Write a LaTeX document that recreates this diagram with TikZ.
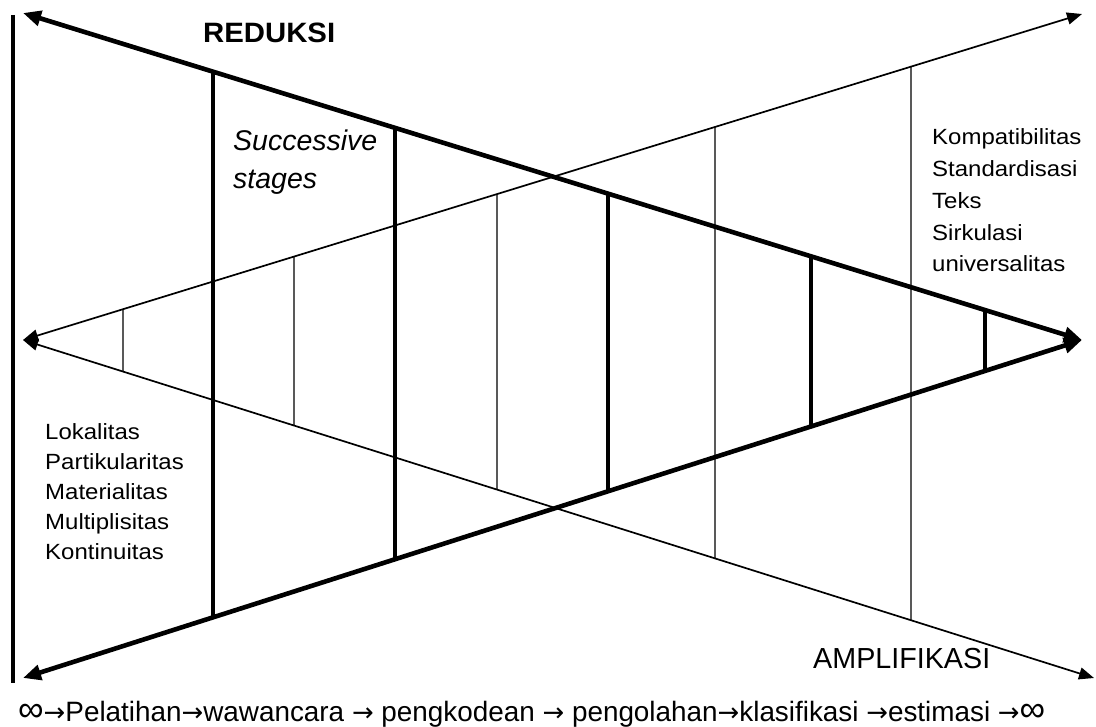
\documentclass[tikz,border=0pt]{standalone}
\usepackage{fontspec}
\setmainfont{Liberation Sans}
\newfontfamily\listfont[FakeStretch=1.09]{Liberation Sans}
\newfontfamily\arrowfont{DejaVu Sans}
\usetikzlibrary{arrows.meta,calc}
\newcommand{\seqarrow}{{\arrowfont\fontsize{26}{26}\selectfont →}}
\newcommand{\seqinf}{{\fontsize{36}{36}\selectfont ∞}}
\begin{document}
\begin{tikzpicture}[x=1pt,y=-1pt,
  heavyline/.style={line width=4.6pt},
  lightline/.style={line width=1.7pt},
  heavybar/.style={line width=4pt},
  lightbar/.style={line width=1.2pt},
  bigtip/.tip={Triangle[length=18pt,width=15pt]},
  smalltip/.tip={Triangle[length=15pt,width=12pt]},
  lbl/.style={inner sep=0pt, anchor=base west, align=left}
]
\useasboundingbox (0,0) rectangle (1096,727);

% end points
\coordinate (TL) at (23,13);
\coordinate (RC) at (1082,340);
\coordinate (BL) at (23,678);
\coordinate (LC) at (23,340);
\coordinate (TR) at (1082,14);
\coordinate (BR) at (1094,678);

% left vertical axis
\coordinate (axT) at (13,15);
\coordinate (axB) at (13,683);
\draw[heavybar] (axT) -- (axB);

% thick converging lines (reduction)
\draw[heavyline, bigtip-bigtip] (TL) -- (RC);
\draw[heavyline, bigtip-bigtip] (BL) -- (RC);

% thin diverging lines (amplification)
\draw[lightline, smalltip-smalltip] (LC) -- (TR);
\draw[lightline, smalltip-smalltip] (LC) -- (BR);

% thick stage bars
\foreach \t in {0.1794,0.3513,0.5524,0.7441,0.9084}{
  \draw[heavybar] ($(TL)!\t!(RC)$) -- ($(BL)!\t!(RC)$);
}

% thin stage bars
\foreach \a/\b in {0.0944/0.0934,0.2559/0.2530,0.4476/0.4426,0.6534/0.6461,0.8385/0.8291}{
  \draw[lightbar] ($(LC)!\a!(TR)$) -- ($(LC)!\b!(BR)$);
}

% labels
\node[lbl, font=\bfseries\fontsize{28}{30}\selectfont] (reduksi) at (203,43)
  {\resizebox{132pt}{\height}{REDUKSI}};

\node[lbl, font=\itshape\fontsize{28.5}{38}\selectfont] (succ) at (233,151)
  {\begin{tabular}[t]{@{}l@{}}Successive\\stages\end{tabular}};

\node[lbl, font=\listfont\fontsize{22}{31.7}\selectfont] (rlist) at (932,145)
  {\begin{tabular}[t]{@{}l@{}}Kompatibilitas\\Standardisasi\\Teks\\Sirkulasi\\universalitas\end{tabular}};

\node[lbl, font=\listfont\fontsize{22}{30}\selectfont] (llist) at (45,440)
  {\begin{tabular}[t]{@{}l@{}}Lokalitas\\Partikularitas\\Materialitas\\Multiplisitas\\Kontinuitas\end{tabular}};

\node[lbl, font=\fontsize{29}{31}\selectfont] (ampl) at (813,668)
  {\resizebox{177pt}{\height}{AMPLIFIKASI}};

\node[lbl, font=\fontsize{28}{30}\selectfont] (seq) at (18,721)
  {\resizebox{1027pt}{\height}{\seqinf\seqarrow Pelatihan\seqarrow wawancara \seqarrow{} pengkodean \seqarrow{} pengolahan\seqarrow klasifikasi \seqarrow estimasi \seqarrow\seqinf}};
\end{tikzpicture}
\end{document}
